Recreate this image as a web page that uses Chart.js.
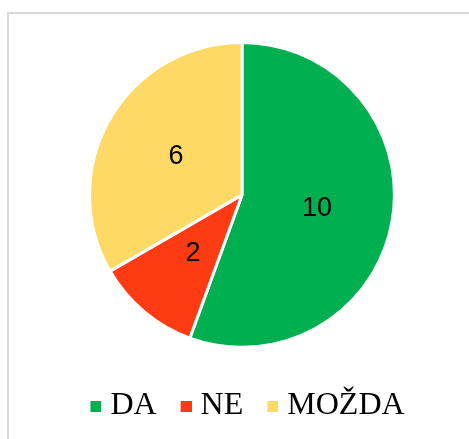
<!DOCTYPE html>
<html>
<head>
<meta charset="utf-8">
<script src="https://cdn.jsdelivr.net/npm/chart.js@4/dist/chart.umd.min.js"></script>
<style>
  html, body { margin: 0; padding: 0; background: #fff; }
  #wrap { position: relative; width: 469px; height: 439px; overflow: hidden; }
  #frame {
    position: absolute; left: 7px; top: 12px; width: 500px; height: 500px;
    border-top: 2px solid #d9d9d9; border-left: 2px solid #d9d9d9;
    pointer-events: none;
  }
</style>
</head>
<body>
<div id="wrap">
  <canvas id="pie" width="469" height="439"></canvas>
  <div id="frame"></div>
</div>
<script>
const labels = ['DA', 'NE', 'MOŽDA'];
const answers = [10, 2, 6];
const sliceColors = ['#00b050', '#ff3b14', '#ffd966'];

// small square marker, sitting at the right side so the text stays close to it
function legendMarker(color) {
    const c = document.createElement('canvas');
    c.width = 15;
    c.height = 11;
    const g = c.getContext('2d');
    g.fillStyle = color;
    g.fillRect(4, 0, 11, 11);
    return c;
}

// value in the middle of each slice
const sliceValues = {
    id: 'sliceValues',
    afterDatasetsDraw(chart) {
        const ctx = chart.ctx;
        const meta = chart.getDatasetMeta(0);
        ctx.save();
        ctx.font = '27px "Liberation Sans", Arial, sans-serif';
        ctx.fillStyle = '#000';
        ctx.textAlign = 'center';
        ctx.textBaseline = 'middle';
        meta.data.forEach((arc, i) => {
            const p = arc.tooltipPosition();
            ctx.fillText(String(chart.data.datasets[0].data[i]), p.x, p.y);
        });
        ctx.restore();
    }
};

// legend sits a little right of the pie centre in the original
const legendNudge = {
    id: 'legendNudge',
    afterLayout(chart) {
        chart.legend.left += 7;
        chart.legend.right += 7;
    }
};

new Chart(document.getElementById('pie'), {
    type: 'pie',
    data: {
        labels: labels,
        datasets: [{
            data: answers,
            backgroundColor: sliceColors,
            borderColor: '#ffffff',
            borderWidth: 3
        }]
    },
    options: {
        responsive: false,
        animation: false,
        layout: { padding: { top: 41, left: 15, right: 0, bottom: 7 } },
        plugins: {
            tooltip: { enabled: false },
            legend: {
                position: 'bottom',
                title: { display: true, text: ' ', font: { size: 1 }, padding: { top: 13, bottom: 0 } },
                labels: {
                    usePointStyle: true,
                    pointStyleWidth: 1,
                    boxHeight: 11,
                    padding: 27,
                    color: '#000',
                    font: { family: '"Liberation Serif", "Times New Roman", serif', size: 32 },
                    generateLabels(chart) {
                        return chart.data.labels.map((text, i) => ({
                            text: text,
                            fontColor: '#000',
                            fillStyle: sliceColors[i],
                            strokeStyle: sliceColors[i],
                            lineWidth: 0,
                            pointStyle: legendMarker(sliceColors[i]),
                            hidden: false,
                            index: i
                        }));
                    }
                }
            }
        }
    },
    plugins: [sliceValues, legendNudge]
});
</script>
</body>
</html>
